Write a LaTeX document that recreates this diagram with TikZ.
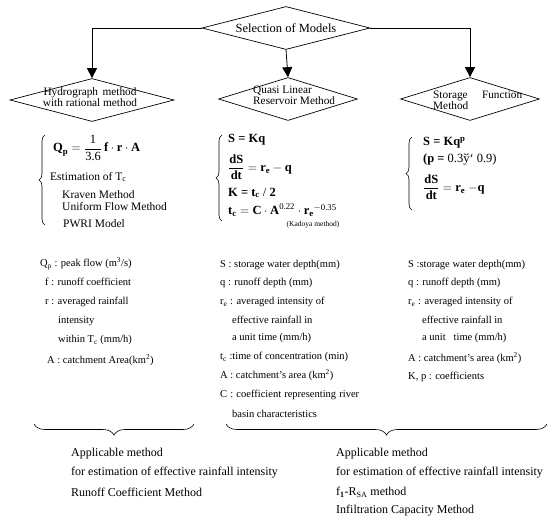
\documentclass[tikz,border=0pt]{standalone}
\usepackage{amsmath}
\usepackage{fontspec}
\setmainfont{Liberation Serif}
\usetikzlibrary{shapes.geometric,arrows.meta,decorations.pathreplacing}
\newcommand{\BF}[1]{\text{\bfseries #1}}
\newcommand{\MD}[1]{\text{\mdseries #1}}
\begin{document}
\begin{tikzpicture}[x=1pt,y=-1pt,
  dia/.style={draw, diamond, inner sep=0pt, line width=0.7pt},
  arr/.style={-{Triangle[width=10pt,length=10pt]}, line width=0.8pt},
  dtxt/.style={inner sep=0pt, font=\fontsize{11.3}{11}\selectfont},
  eq/.style={anchor=west, inner sep=0pt, font=\fontsize{12.5}{14}\selectfont\bfseries},
  mtxt/.style={anchor=west, inner sep=0pt, font=\fontsize{11.5}{12}\selectfont},
  desc/.style={anchor=west, inner sep=0pt, font=\fontsize{10.5}{12}\selectfont},
  btxt/.style={anchor=west, inner sep=0pt, font=\fontsize{12}{14}\selectfont},
  lbrace/.style={decorate, decoration={brace, amplitude=6pt}, line width=0.6pt},
  bbrace/.style={decorate, decoration={brace, amplitude=11pt}, line width=0.6pt}]
\useasboundingbox (0,0) rectangle (555,522);
\fill[white] (0,0) rectangle (555,522);

% diamonds
\node[dia, minimum width=168pt, minimum height=43pt] (sel) at (286,28) {};
\node[inner sep=0pt, font=\fontsize{12.5}{12}\selectfont] (selt) at (sel.center) {Selection of Models};
\node[dia, minimum width=164pt, minimum height=43pt] (hyd) at (92,100) {};
\node[dtxt, align=center] (hydt) at (90,97.5) {\makebox[93pt][s]{Hydrograph method}\\with rational method};
\node[dia, minimum width=139pt, minimum height=43pt] (qlr) at (288,99) {};
\node[dtxt, align=left, anchor=west] (qlrt) at (253,95) {Quasi Linear\\Reservoir Method};
\node[dia, minimum width=139pt, minimum height=43pt] (sfm) at (470,99) {};
\node[dtxt, align=left, anchor=west, font=\fontsize{11.3}{9}\selectfont] (sfmt) at (433,100) {\makebox[89pt][s]{Storage Function}\\Method};

% connectors
\draw[arr] (sel.west) -| (hyd.north);
\draw[arr] (sel.south) -- (qlr.north);
\draw[arr] (sel.east) -| (sfm.north);

% formula block 1
\coordinate (b1t) at (45,135);
\coordinate (b1b) at (45,225);
\draw[lbrace] (b1b) -- (b1t);
\node[eq] (qp) at (53,148) {$\BF{Q}_{\BF{p}} = \dfrac{\MD{1}}{\MD{3.6}}\,\BF{f}\cdot\BF{r}\cdot\BF{A}$};
\node[mtxt] (est) at (50,177) {Estimation of T\textsubscript{c}};
\node[mtxt] (kra) at (62,195) {Kraven Method};
\node[mtxt] (ufm) at (62,207) {Uniform Flow Method};
\node[mtxt] (pwri) at (63,224) {PWRI Model};

% formula block 2
\coordinate (b2t) at (222,135);
\coordinate (b2b) at (222,221);
\draw[lbrace] (b2b) -- (b2t);
\node[eq] (e1) at (228,140) {S = Kq};
\node[eq] (e2) at (228,167) {$\dfrac{\BF{dS}}{\BF{dt}} = \BF{r}_{\BF{e}} - \BF{q}$};
\node[eq] (e3) at (228,193) {K = t\textsubscript{c} {\mdseries /} 2};
\node[eq] (e4) at (228,210) {$\BF{t}_{\BF{c}} = \BF{C}\cdot\BF{A}^{\MD{0.22}}\cdot{\BF{r}_{\BF{e}}}{}^{-\MD{0.35}}$};
\node[inner sep=0pt, font=\fontsize{7.5}{8}\selectfont] (kad) at (313,225) {(Kadoya method)};

% formula block 3
\coordinate (b3t) at (412,137);
\coordinate (b3b) at (412,210);
\draw[lbrace] (b3b) -- (b3t);
\node[eq] (f1) at (423,143) {S = Kq\textsuperscript{p}};
\node[eq] (f2) at (423,160) {(p = \mdseries 0.3ў‘ 0.9)};
\node[eq] (f3) at (423,187) {$\dfrac{\BF{dS}}{\BF{dt}} = \BF{r}_{\BF{e}}\ {-}\BF{q}$};

% descriptions left
\node[desc] (d11) at (40,264) {Q\textsubscript{p} : peak flow (m\textsuperscript{3}/s)};
\node[desc] (d12) at (45,282) {f : runoff coefficient};
\node[desc] (d13) at (45,302) {r : averaged rainfall};
\node[desc] (d14) at (58,321) {intensity};
\node[desc] (d15) at (58,340) {within T\textsubscript{c} (mm/h)};
\node[desc] (d16) at (47,360) {A : catchment Area(km\textsuperscript{2})};

% descriptions middle
\node[desc] (d21) at (220,265) {S : storage water depth(mm)};
\node[desc] (d22) at (220,283) {q : runoff depth (mm)};
\node[desc] (d23) at (220,302) {r\textsubscript{e} : averaged intensity of};
\node[desc] (d24) at (232,320) {effective rainfall in};
\node[desc] (d25) at (232,338) {a unit time (mm/h)};
\node[desc] (d26) at (220,357) {t\textsubscript{c} :time of concentration (min)};
\node[desc] (d27) at (220,375) {A : catchment’s area (km\textsuperscript{2})};
\node[desc] (d28) at (220,395) {\makebox[139pt][s]{C : coefficient representing river}};
\node[desc] (d29) at (232,414) {basin characteristics};

% descriptions right
\node[desc] (d31) at (408,265) {S :storage water depth(mm)};
\node[desc] (d32) at (408,283) {q : runoff depth (mm)};
\node[desc] (d33) at (408,302) {r\textsubscript{e} : averaged intensity of};
\node[desc] (d34) at (422,320) {effective rainfall in};
\node[desc] (d35) at (422,338) {a unit \ \ time (mm/h)};
\node[desc] (d36) at (408,358) {A : catchment’s area (km\textsuperscript{2})};
\node[desc] (d37) at (408,377) {K, p : coefficients};

% bottom braces
\coordinate (bl1) at (194,424);
\coordinate (bl2) at (34,424);
\draw[bbrace] (bl1) -- (bl2);
\coordinate (br1) at (547,424);
\coordinate (br2) at (226,424);
\draw[bbrace] (br1) -- (br2);

% bottom texts
\node[btxt] (a1) at (71,454) {Applicable method};
\node[btxt] (a2) at (71,473) {for estimation of effective rainfall intensity};
\node[btxt] (a3) at (71,492) {Runoff Coefficient Method};
\node[btxt] (c1) at (336,454) {Applicable method};
\node[btxt] (c2) at (336,473) {for estimation of effective rainfall intensity};
\node[btxt] (c3) at (336,492) {f\textsubscript{\bfseries 1}-R\textsubscript{SA} method};
\node[btxt] (c4) at (336,511) {Infiltration Capacity Method};
\end{tikzpicture}
\end{document}
